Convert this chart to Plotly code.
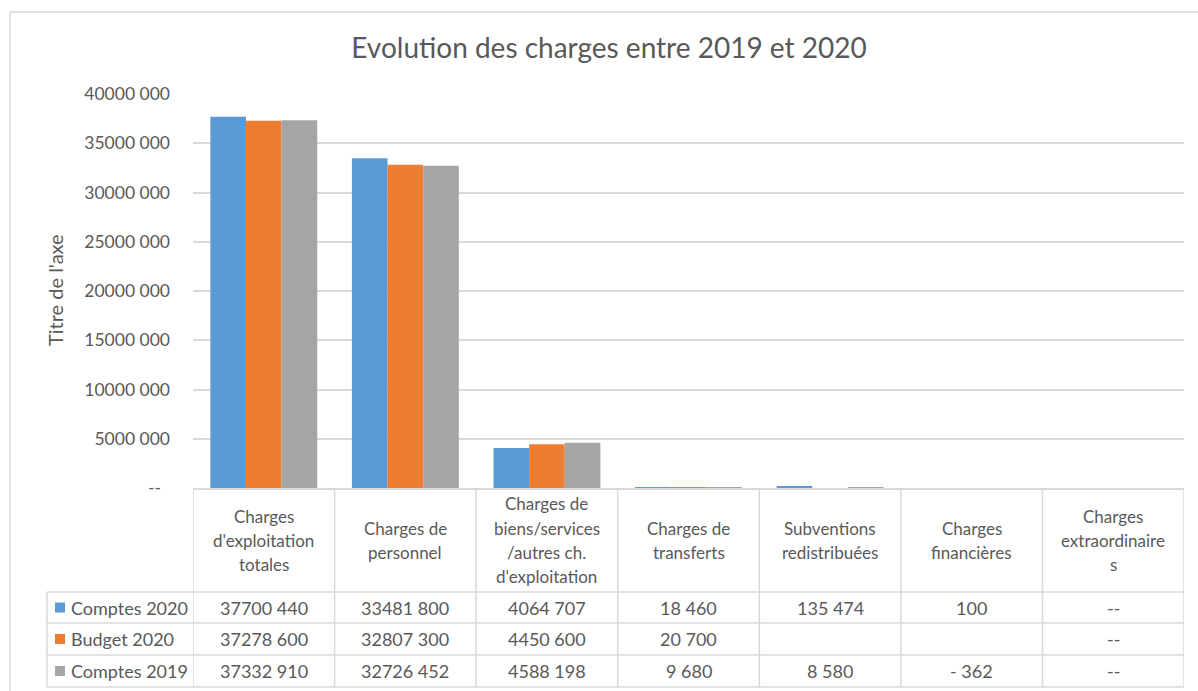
import plotly.graph_objects as go

# categories (wrapped the way the data table shows them)
categories = [
    "Charges<br>d'exploitation<br>totales",
    "Charges de<br>personnel",
    "Charges de<br>biens/services<br>/autres ch.<br>d'exploitation",
    "Charges de<br>transferts",
    "Subventions<br>redistribuées",
    "Charges<br>financières",
    "Charges<br>extraordinaire<br>s",
]
series_names = ["Comptes 2020", "Budget 2020", "Comptes 2019"]
comptes_2020 = [37700440, 33481800, 4064707, 18460, 135474, 100, 0]
budget_2020 = [37278600, 32807300, 4450600, 20700, None, None, 0]
comptes_2019 = [37332910, 32726452, 4588198, 9680, 8580, -362, 0]
y_ticks = [0, 5000000, 10000000, 15000000, 20000000, 25000000, 30000000, 35000000, 40000000]

colors = ["#5B9BD5", "#ED7D31", "#A5A5A5"]
TXT = "#595959"
LINE = "#D9D9D9"
FONT = "Lato"

# plot area in pixels
W, H = 1198, 691
L, R, T, B = 193, 1184, 94, 488


def fmt(v):
    # excel style "40000 000", zero shown as "--"
    if v is None:
        return ""
    if v == 0:
        return "--"
    s = str(abs(int(v)))
    if len(s) > 3:
        s = s[:-3] + " " + s[-3:]
    return ("- " if v < 0 else "") + s


def px(p):
    return (p - L) / (R - L)


def py(p):
    return (B - p) / (B - T)


fig = go.Figure()
for name, vals, c in zip(series_names, [comptes_2020, budget_2020, comptes_2019], colors):
    fig.add_trace(go.Bar(x=categories, y=vals, name=name, marker_color=c, marker_line_width=0))

shapes = []
annotations = []

# outer chart border
shapes.append(dict(type="rect", xref="paper", yref="paper", x0=px(10), x1=px(1210), y0=py(12), y1=py(705),
                   line=dict(color=LINE, width=1.5), layer="below"))

# table grid
row_y = [592, 623, 655, 687]
for i in range(len(categories) + 1):
    shapes.append(dict(type="line", xref="x", yref="paper", x0=i - 0.5, x1=i - 0.5, y0=py(B), y1=py(row_y[-1]),
                       line=dict(color=LINE, width=1.5)))
shapes.append(dict(type="line", xref="paper", yref="paper", x0=px(47), x1=px(47), y0=py(row_y[0]), y1=py(row_y[-1]),
                   line=dict(color=LINE, width=1.5)))
for yy in row_y:
    shapes.append(dict(type="line", xref="paper", yref="paper", x0=px(47), x1=1, y0=py(yy), y1=py(yy),
                       line=dict(color=LINE, width=1.5)))

# header cells
for cat in categories:
    lines = cat.split("<br>")
    n = len(lines)
    for k, ln in enumerate(lines):
        yc = 540 + (k - (n - 1) / 2) * 24
        annotations.append(dict(x=cat, xref="x", y=py(yc), yref="paper", text=ln, showarrow=False,
                                xanchor="center", yanchor="middle", font=dict(family=FONT, size=17, color=TXT)))

# data rows
for r, (name, vals, c) in enumerate(zip(series_names, [comptes_2020, budget_2020, comptes_2019], colors)):
    yc = (row_y[r] + row_y[r + 1]) / 2
    shapes.append(dict(type="rect", xref="paper", yref="paper", x0=px(55), x1=px(65), y0=py(yc - 5), y1=py(yc + 5),
                       fillcolor=c, line=dict(width=0)))
    annotations.append(dict(x=px(69), xref="paper", y=py(yc), yref="paper", text=name, showarrow=False,
                            xanchor="left", yanchor="middle", font=dict(family=FONT, size=18, color=TXT)))
    for cat, v in zip(categories, vals):
        annotations.append(dict(x=cat, xref="x", y=py(yc), yref="paper", text=fmt(v), showarrow=False,
                                xanchor="center", yanchor="middle", font=dict(family=FONT, size=18, color=TXT)))

# axis title
annotations.append(dict(x=px(55), xref="paper", y=py(290), yref="paper", text="Titre de l'axe", textangle=-90,
                        showarrow=False, xanchor="center", yanchor="middle",
                        font=dict(family=FONT, size=20, color=TXT)))

tick_text = [fmt(v) if v else "--\u00a0\u00a0" for v in y_ticks]

fig.update_layout(
    width=W, height=H,
    margin=dict(l=L, r=W - R, t=T, b=H - B),
    paper_bgcolor="white", plot_bgcolor="white",
    title=dict(text="Evolution des charges entre 2019 et 2020", x=609 / W, xref="container", xanchor="center",
               y=1 - 48 / H, yanchor="middle",
               font=dict(family=FONT, size=28, color=TXT)),
    barmode="group", bargap=0.245, bargroupgap=0,
    showlegend=False,
    xaxis=dict(range=[-0.5, len(categories) - 0.5], showticklabels=False, showgrid=False,
               showline=True, linecolor=LINE, linewidth=1.5, zeroline=False),
    yaxis=dict(range=[0, 40000000], tickvals=y_ticks, ticktext=tick_text, showgrid=True, gridcolor=LINE,
               gridwidth=1.5, zeroline=False, showline=False, ticklabelstandoff=22,
               tickfont=dict(family=FONT, size=17.5, color=TXT)),
    shapes=shapes,
    annotations=annotations,
    font=dict(family=FONT, color=TXT),
)

fig.write_html("out.html", config={"displayModeBar": False},
               post_script="document.body.style.margin='0px';")
